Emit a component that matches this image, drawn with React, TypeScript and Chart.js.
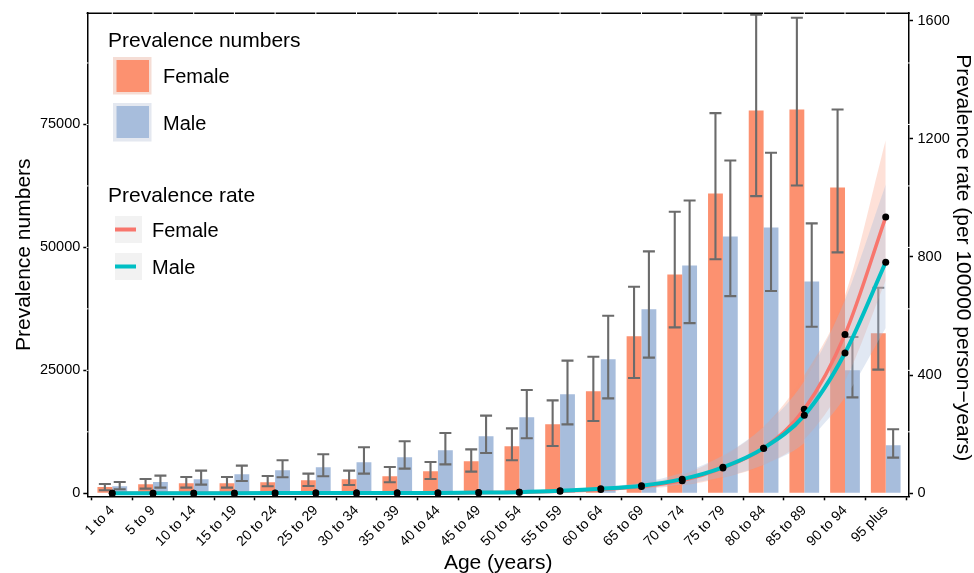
import { useEffect, useRef } from "react";
import { Chart, registerables } from "chart.js";
Chart.register(...registerables);

const FONT = "'Liberation Sans', Arial, Helvetica, sans-serif";

const ageGroups = ["1 to 4", "5 to 9", "10 to 14", "15 to 19", "20 to 24", "25 to 29", "30 to 34", "35 to 39", "40 to 44", "45 to 49", "50 to 54", "55 to 59", "60 to 64", "65 to 69", "70 to 74", "75 to 79", "80 to 84", "85 to 89", "90 to 94", "95 plus"];

const femaleNumbers = [1280, 1830, 2030, 2030, 2240, 2640, 2850, 3460, 4470, 6500, 9550, 14020, 20730, 31910, 44510, 60980, 77850, 78050, 62200, 32520];
const femaleNumbersLow = [610, 950, 1150, 1150, 1420, 1490, 1700, 2240, 2910, 4400, 6710, 9610, 14700, 23440, 33740, 47600, 60430, 62600, 48980, 25140];
const femaleNumbersHigh = [1890, 2910, 3310, 3310, 3520, 4000, 4610, 5350, 6370, 8940, 13210, 18900, 27780, 42010, 57250, 77300, 97300, 96690, 78050, 41810];

const maleNumbers = [1420, 2300, 2850, 3860, 4670, 5280, 6300, 7320, 8740, 11590, 15450, 20120, 27240, 37400, 46340, 52240, 54060, 43090, 25000, 9760];
const maleNumbersLow = [810, 1150, 1770, 2500, 3250, 3460, 4000, 5010, 5890, 8190, 11180, 14020, 19310, 27580, 34610, 40100, 41120, 33880, 19510, 7260];
const maleNumbersHigh = [2300, 3600, 4610, 5620, 6710, 7930, 9350, 10570, 12260, 15790, 21000, 26970, 36110, 49190, 59550, 67680, 69240, 54880, 31770, 13010];

const femaleRate = [0.3, 0.4, 0.5, 0.6, 0.7, 0.8, 0.9, 1.0, 1.3, 2.2, 3.5, 7, 13, 23, 43, 86, 153, 285, 538, 935];
const femaleRateLow = [0.2, 0.3, 0.35, 0.4, 0.5, 0.6, 0.7, 0.75, 0.9, 1.5, 2.3, 4.6, 8.5, 15, 27, 53, 96, 182, 380, 720];
const femaleRateHigh = [0.5, 0.6, 0.7, 0.8, 0.9, 1.0, 1.2, 1.3, 1.8, 3.0, 5.0, 10, 19, 34, 63, 126, 225, 400, 670, 1195];

const maleRate = [0.4, 0.5, 0.6, 0.7, 0.8, 0.9, 1.0, 1.2, 1.5, 2.5, 4, 8.5, 15.5, 26, 48, 88, 153, 264, 475, 782];
const maleRateLow = [0.2, 0.3, 0.4, 0.5, 0.55, 0.6, 0.7, 0.8, 1.0, 1.6, 2.5, 5.3, 10, 16.5, 30, 55, 96, 170, 325, 560];
const maleRateHigh = [0.6, 0.7, 0.8, 0.9, 1.1, 1.2, 1.4, 1.6, 2.1, 3.5, 5.7, 12, 22, 37, 70, 128, 225, 380, 655, 1045];

const leftTicks = [0, 25000, 50000, 75000];
const rightTicks = [0, 400, 800, 1200, 1600];
const gridValues = [12500, 25000, 37500, 50000, 62500, 75000, 87500];

const FEMALE_BAR = "#FC9170";
const MALE_BAR = "#A7BDDC";
const FEMALE_LINE = "#F8766D";
const MALE_LINE = "#00BFC4";

const pts = (arr: number[]) => arr.map((v, i) => ({ x: i, y: v }));

const errorBarPlugin = {
  id: "errorBars",
  afterDatasetDraw(chart: any, args: any) {
    if (args.index !== 0) return;
    const ctx = chart.ctx;
    const y = chart.scales.y;
    ctx.save();
    ctx.strokeStyle = "#6b6b6b";
    ctx.lineWidth = 2.1;
    const sets: [number, number[], number[]][] = [
      [0, femaleNumbersLow, femaleNumbersHigh],
      [1, maleNumbersLow, maleNumbersHigh],
    ];
    sets.forEach(([di, lo, hi]) => {
      const meta = chart.getDatasetMeta(di);
      meta.data.forEach((bar: any, i: number) => {
        const x = bar.x;
        const yl = y.getPixelForValue(lo[i]);
        const yh = y.getPixelForValue(hi[i]);
        ctx.beginPath();
        ctx.moveTo(x, yl);
        ctx.lineTo(x, yh);
        ctx.moveTo(x - 6, yl);
        ctx.lineTo(x + 6, yl);
        ctx.moveTo(x - 6, yh);
        ctx.lineTo(x + 6, yh);
        ctx.stroke();
      });
    });
    ctx.restore();
  },
};

const framePlugin = {
  id: "frame",
  afterDraw(chart: any) {
    const ctx = chart.ctx;
    const { left, right, top, bottom } = chart.chartArea;
    const xs = chart.scales.x;
    const ys = chart.scales.y;
    ctx.save();
    ctx.strokeStyle = "#000";
    ctx.lineWidth = 1.5;
    ctx.beginPath();
    ctx.moveTo(left - 0.75, top);
    ctx.lineTo(right + 0.75, top);
    ctx.stroke();
    ctx.strokeStyle = "#fff";
    ctx.lineWidth = 1;
    ctx.beginPath();
    ageGroups.forEach((_, i) => {
      const x = xs.getPixelForValue(i);
      ctx.moveTo(x, top - 1.5);
      ctx.lineTo(x, top + 1.5);
    });
    gridValues.forEach((v) => {
      const y = ys.getPixelForValue(v);
      ctx.moveTo(left - 1.2, y);
      ctx.lineTo(left + 1.2, y);
      ctx.moveTo(right - 1.2, y);
      ctx.lineTo(right + 1.2, y);
    });
    ctx.stroke();

    // axis titles
    ctx.fillStyle = "#000";
    ctx.font = `21px ${FONT}`;
    ctx.textAlign = "center";
    ctx.textBaseline = "alphabetic";
    const cy = (top + bottom) / 2;
    ctx.save();
    ctx.translate(29.5, cy);
    ctx.rotate(-Math.PI / 2);
    ctx.fillText("Prevalence numbers", 0, 0);
    ctx.restore();
    ctx.save();
    ctx.translate(956.5, cy + 3);
    ctx.rotate(Math.PI / 2);
    ctx.fillText("Prevalence rate (per 100000 person\u2212years)", 0, 0);
    ctx.restore();
    ctx.fillText("Age (years)", (left + right) / 2, 569);

    // legend
    ctx.textAlign = "left";
    ctx.fillText("Prevalence numbers", 108, 47);
    ctx.fillText("Prevalence rate", 108, 201.5);
    ctx.font = `20px ${FONT}`;
    ctx.fillText("Female", 163, 83);
    ctx.fillText("Male", 163, 129.5);
    ctx.fillText("Female", 152, 237);
    ctx.fillText("Male", 152, 274);

    ctx.fillStyle = "#F5DDD5";
    ctx.fillRect(113, 57, 38.5, 37.5);
    ctx.fillStyle = FEMALE_BAR;
    ctx.fillRect(116.5, 60, 32.5, 32);
    ctx.fillStyle = "#E4E8F0";
    ctx.fillRect(113, 103, 38.5, 38.5);
    ctx.fillStyle = MALE_BAR;
    ctx.fillRect(116.5, 106, 32.5, 32);

    ctx.fillStyle = "#F2F2F2";
    ctx.fillRect(115, 216, 27, 27);
    ctx.fillRect(115, 253, 27, 27);
    ctx.lineWidth = 4;
    ctx.strokeStyle = FEMALE_LINE;
    ctx.beginPath();
    ctx.moveTo(115, 229.5);
    ctx.lineTo(136, 229.5);
    ctx.stroke();
    ctx.strokeStyle = MALE_LINE;
    ctx.beginPath();
    ctx.moveTo(115, 266.5);
    ctx.lineTo(136, 266.5);
    ctx.stroke();
    ctx.restore();
  },
};

const tickFont = { family: FONT, size: 14.5 };
const axisGrid = { display: true, drawOnChartArea: false, drawTicks: true, tickLength: 4, tickWidth: 1.5, tickColor: "#000" };
const axisBorder = { display: true, color: "#000", width: 1.5 };

export default function App() {
  const ref = useRef<HTMLCanvasElement>(null);
  useEffect(() => {
    const ribbon = (data: number[], color: string, fill: any, order: number) => ({
      type: "line" as const,
      data: pts(data),
      yAxisID: "y2",
      borderWidth: 0,
      borderColor: "rgba(0,0,0,0)",
      backgroundColor: color,
      pointRadius: 0,
      pointHoverRadius: 0,
      fill,
      cubicInterpolationMode: "monotone" as const,
      order,
    });
    const chart = new Chart(ref.current!, {
      type: "bar",
      data: {
        datasets: [
          { type: "bar", label: "Female numbers", data: pts(femaleNumbers), yAxisID: "y", backgroundColor: FEMALE_BAR, categoryPercentage: 0.73, barPercentage: 1, order: 20 },
          { type: "bar", label: "Male numbers", data: pts(maleNumbers), yAxisID: "y", backgroundColor: MALE_BAR, categoryPercentage: 0.73, barPercentage: 1, order: 21 },
          ribbon(femaleRateHigh, "rgba(252,145,112,0.27)", "+1", 11),
          ribbon(femaleRateLow, "rgba(0,0,0,0)", false, 12),
          ribbon(maleRateHigh, "rgba(167,189,220,0.34)", "+1", 9),
          ribbon(maleRateLow, "rgba(0,0,0,0)", false, 10),
          { type: "line", label: "Female rate", data: pts(femaleRate), yAxisID: "y2", borderColor: FEMALE_LINE, borderWidth: 3.5, pointRadius: 3.5, pointBackgroundColor: "#000", pointBorderWidth: 0, pointHoverRadius: 0, cubicInterpolationMode: "monotone", fill: false, clip: false, order: 2 },
          { type: "line", label: "Male rate", data: pts(maleRate), yAxisID: "y2", borderColor: MALE_LINE, borderWidth: 4, pointRadius: 3.5, pointBackgroundColor: "#000", pointBorderWidth: 0, pointHoverRadius: 0, cubicInterpolationMode: "monotone", fill: false, clip: false, order: 1 },
        ] as any,
      },
      options: {
        animation: false,
        responsive: true,
        maintainAspectRatio: false,
        devicePixelRatio: 1,
        layout: { padding: { top: 12.7, left: 0, right: 0, bottom: 0 } },
        plugins: { legend: { display: false }, tooltip: { enabled: false } },
        events: [],
        scales: {
          x: {
            type: "linear",
            min: -0.614,
            max: 19.572,
            offset: false,
            grid: axisGrid,
            border: axisBorder,
            ticks: { autoSkip: false, minRotation: 45, maxRotation: 45, font: { family: FONT, size: 14 }, color: "#000", padding: 2, callback: (v: any) => ageGroups[v] ?? "" },
            afterBuildTicks: (s: any) => { s.ticks = ageGroups.map((_, i) => ({ value: i })); },
            afterFit: (s: any) => { s.height = 76.7; },
          },
          y: {
            type: "linear",
            position: "left",
            min: -610,
            max: 97620,
            grid: axisGrid,
            border: axisBorder,
            ticks: { font: tickFont, color: "#000", padding: 3, callback: (v: any) => String(v) },
            afterBuildTicks: (s: any) => { s.ticks = leftTicks.map((v) => ({ value: v })); },
            afterFit: (s: any) => { s.width = 87.3; },
          },
          y2: {
            type: "linear",
            position: "right",
            min: -10,
            max: 1625,
            grid: axisGrid,
            border: axisBorder,
            ticks: { font: tickFont, color: "#000", padding: 4.5, callback: (v: any) => String(v) },
            afterBuildTicks: (s: any) => { s.ticks = rightTicks.map((v) => ({ value: v })); },
            afterFit: (s: any) => { s.width = 65; },
          },
        },
      } as any,
      plugins: [errorBarPlugin, framePlugin],
    });
    return () => chart.destroy();
  }, []);
  return (
    <div style={{ position: "fixed", left: 0, top: 0, width: 974, height: 573, background: "#fff" }}>
      <canvas ref={ref} />
    </div>
  );
}
